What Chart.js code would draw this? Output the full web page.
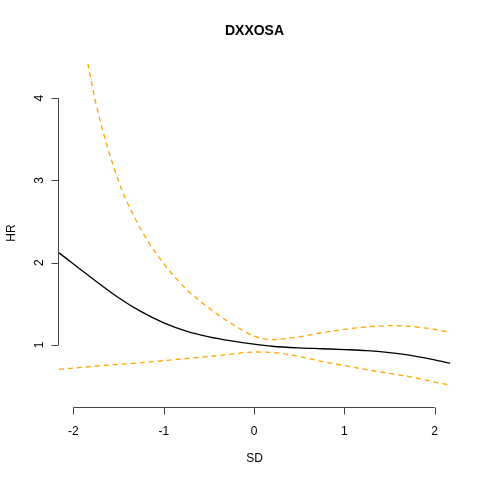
<!DOCTYPE html>
<html>
<head>
<meta charset="utf-8">
<script src="https://cdn.jsdelivr.net/npm/chart.js@4.4.1/dist/chart.umd.min.js"></script>
<style>
  html, body { margin: 0; padding: 0; background: #fff; }
  #wrap { width: 480px; height: 480px; }
</style>
</head>
<body>
<div id="wrap"><canvas id="grafico"></canvas></div>
<script>
// valores
const sd = [-2.16, -2, -1.84, -1.75, -1.5, -1.25, -1, -0.75, -0.5, -0.25, 0, 0.2, 0.5, 0.75, 1, 1.25, 1.5, 1.75, 2, 2.17];
const hr = [2.12, 1.985, 1.85, 1.775, 1.575, 1.405, 1.27, 1.17, 1.10, 1.05, 1.01, 0.985, 0.965, 0.955, 0.945, 0.932, 0.907, 0.872, 0.82, 0.78];
const hrSup = [null, null, 4.42, 3.93, 2.99, 2.40, 1.99, 1.68, 1.45, 1.26, 1.11, 1.065, 1.10, 1.15, 1.19, 1.22, 1.235, 1.225, 1.19, 1.155];
const hrInf = [0.705, 0.72, 0.735, 0.745, 0.765, 0.785, 0.81, 0.835, 0.86, 0.89, 0.915, 0.91, 0.86, 0.80, 0.75, 0.70, 0.655, 0.61, 0.55, 0.514];
const ticksX = [-2, -1, 0, 1, 2];
const ticksY = [1, 2, 3, 4];

function pontos(ys) {
  return sd.map((x, i) => ({ x: x, y: ys[i] }));
}

// eixos no estilo do R, desenhados a partir das escalas
const eixosR = {
  id: "eixosR",
  afterDraw(chart) {
    const ctx = chart.ctx;
    const sx = chart.scales.x;
    const sy = chart.scales.y;
    const area = chart.chartArea;
    ctx.save();
    ctx.strokeStyle = "#444";
    ctx.fillStyle = "#000";
    ctx.lineWidth = 1;

    // eixo x
    const yb = area.bottom + 0.5;
    ctx.beginPath();
    ctx.moveTo(sx.getPixelForValue(ticksX[0]), yb);
    ctx.lineTo(sx.getPixelForValue(ticksX[ticksX.length - 1]), yb);
    ticksX.forEach((t) => {
      const px = Math.round(sx.getPixelForValue(t)) + 0.5;
      ctx.moveTo(px, yb);
      ctx.lineTo(px, yb + 7);
    });
    ctx.stroke();
    ctx.font = "12px 'Liberation Sans', Arial, sans-serif";
    ctx.textAlign = "center";
    ctx.textBaseline = "middle";
    ticksX.forEach((t) => {
      ctx.fillText(String(t), sx.getPixelForValue(t), yb + 24);
    });

    // eixo y
    const xl = area.left - 0.5;
    ctx.beginPath();
    ctx.moveTo(xl, sy.getPixelForValue(ticksY[0]));
    ctx.lineTo(xl, sy.getPixelForValue(ticksY[ticksY.length - 1]));
    ticksY.forEach((t) => {
      const py = Math.round(sy.getPixelForValue(t)) + 0.5;
      ctx.moveTo(xl, py);
      ctx.lineTo(xl - 7, py);
    });
    ctx.stroke();
    ticksY.forEach((t) => {
      ctx.save();
      ctx.translate(xl - 19, sy.getPixelForValue(t));
      ctx.rotate(-Math.PI / 2);
      ctx.fillText(String(t), 0, 0);
      ctx.restore();
    });

    // titulos
    const cx = (area.left + area.right) / 2;
    const cy = (area.top + area.bottom) / 2;
    ctx.font = "bold 14px 'Liberation Sans', Arial, sans-serif";
    ctx.fillText("DXXOSA", cx, 31);
    ctx.font = "12px 'Liberation Sans', Arial, sans-serif";
    ctx.fillText("SD", cx, 459);
    ctx.save();
    ctx.translate(12, cy);
    ctx.rotate(-Math.PI / 2);
    ctx.fillText("HR", 0, 0);
    ctx.restore();
    ctx.restore();
  },
};

const grafico = new Chart(document.getElementById("grafico"), {
  type: "line",
  data: {
    datasets: [
      {
        label: "HR",
        data: pontos(hr),
        borderColor: "#000",
        borderWidth: 1.3,
        pointRadius: 0,
        cubicInterpolationMode: "monotone",
      },
      {
        label: "Superior",
        data: pontos(hrSup),
        borderColor: "#FFA500",
        borderWidth: 1.3,
        borderDash: [5, 4],
        pointRadius: 0,
        cubicInterpolationMode: "monotone",
      },
      {
        label: "Inferior",
        data: pontos(hrInf),
        borderColor: "#FFA500",
        borderWidth: 1.3,
        borderDash: [5, 4],
        pointRadius: 0,
        cubicInterpolationMode: "monotone",
      },
    ],
  },
  options: {
    responsive: true,
    maintainAspectRatio: false,
    animation: false,
    layout: { padding: { left: 59, right: 30, top: 59, bottom: 73 } },
    plugins: { legend: { display: false }, tooltip: { enabled: false } },
    scales: {
      x: { type: "linear", min: -2.16, max: 2.17, display: false },
      y: { type: "linear", min: 0.247, max: 4.475, display: false },
    },
  },
  plugins: [eixosR],
});
</script>
</body>
</html>
